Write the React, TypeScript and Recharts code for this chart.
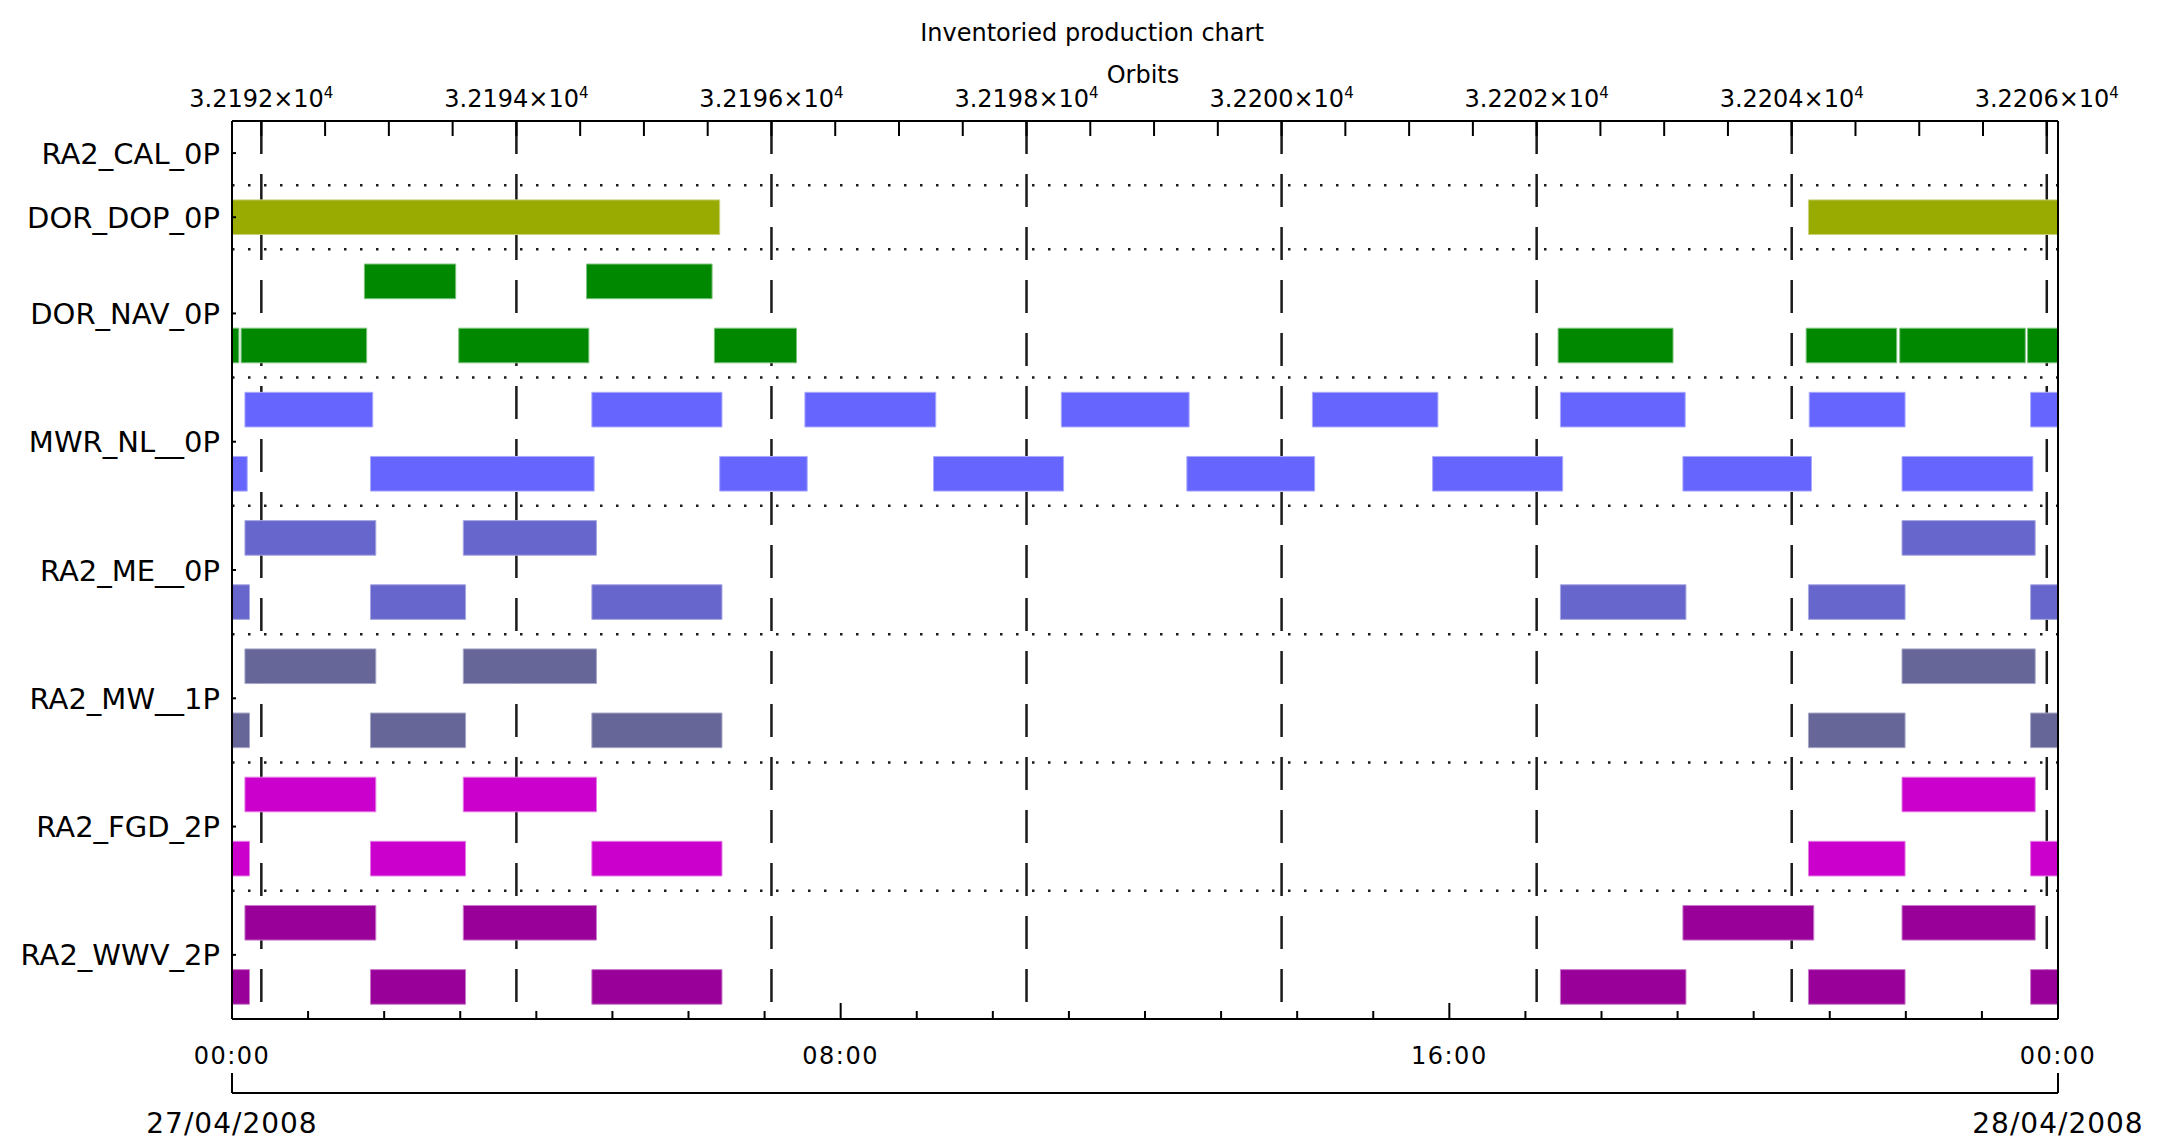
import React from 'react';
import { ComposedChart, XAxis, YAxis, ReferenceArea, ReferenceLine } from 'recharts';

const FONT = "'DejaVu Sans', sans-serif";

// ---- axis ticks / labels ----
const HOUR_TICKS = [0, 1, 2, 3, 4, 5, 6, 7, 8, 9, 10, 11, 12, 13, 14, 15, 16, 17, 18, 19, 20, 21, 22, 23, 24];
const HOUR_LABELS: Record<number, string> = { 0: '00:00', 8: '08:00', 16: '16:00', 24: '00:00' };
const DATE_TICKS = [0, 24];
const DATE_LABELS = ['27/04/2008', '28/04/2008'];
const ORBIT_DOMAIN = [32191.77, 32206.088];
const ORBIT_TICKS = [
  32192, 32192.5, 32193, 32193.5, 32194, 32194.5, 32195, 32195.5, 32196, 32196.5,
  32197, 32197.5, 32198, 32198.5, 32199, 32199.5, 32200, 32200.5, 32201, 32201.5,
  32202, 32202.5, 32203, 32203.5, 32204, 32204.5, 32205, 32205.5, 32206,
];
const ORBIT_MAJOR = [32192, 32194, 32196, 32198, 32200, 32202, 32204, 32206];
const ORBIT_LABELS = ['3.2192', '3.2194', '3.2196', '3.2198', '3.2200', '3.2202', '3.2204', '3.2206'];

// ---- rows ----
const ROW_NAMES = ['RA2_CAL_0P', 'DOR_DOP_0P', 'DOR_NAV_0P', 'MWR_NL__0P', 'RA2_ME__0P', 'RA2_MW__1P', 'RA2_FGD_2P', 'RA2_WWV_2P'];
const ROW_CENTERS = [0.5, 1.5, 3, 5, 7, 9, 11, 13];
const ROW_SEPARATORS = [1, 2, 4, 6, 8, 10, 12];
const ROW_DOMAIN = [0, 14];

// ---- production segments, [start hour, end hour] ----
const DOR_DOP = [[0, 6.41], [20.72, 24]];
const DOR_NAV_A = [[1.74, 2.94], [4.66, 6.31]];
const DOR_NAV_B = [[0, 0.09], [0.12, 1.77], [2.98, 4.69], [6.34, 7.42], [17.43, 18.94], [20.69, 21.88], [21.92, 23.57], [23.6, 24]];
const MWR_A = [[0.17, 1.85], [4.73, 6.44], [7.53, 9.25], [10.9, 12.58], [14.2, 15.85], [17.46, 19.1], [20.73, 21.99], [23.64, 24]];
const MWR_B = [[0, 0.2], [1.82, 4.76], [6.41, 7.56], [9.22, 10.93], [12.55, 14.23], [15.78, 17.49], [19.07, 20.76], [21.95, 23.67]];
const ME_A = [[0.17, 1.89], [3.04, 4.79], [21.95, 23.7]];
const ME_B = [[0, 0.23], [1.82, 3.07], [4.73, 6.44], [17.46, 19.11], [20.72, 21.99], [23.64, 24]];
const MW_A = [[0.17, 1.89], [3.04, 4.79], [21.95, 23.7]];
const MW_B = [[0, 0.23], [1.82, 3.07], [4.73, 6.44], [20.72, 21.99], [23.64, 24]];
const FGD_A = [[0.17, 1.89], [3.04, 4.79], [21.95, 23.7]];
const FGD_B = [[0, 0.23], [1.82, 3.07], [4.73, 6.44], [20.72, 21.99], [23.64, 24]];
const WWV_A = [[0.17, 1.89], [3.04, 4.79], [19.07, 20.79], [21.95, 23.7]];
const WWV_B = [[0, 0.23], [1.82, 3.07], [4.73, 6.44], [17.46, 19.11], [20.72, 21.99], [23.64, 24]];

const SUBROWS = [
  { row: 1, segs: DOR_DOP, color: '#99aa00', edge: '#c9d27a' },
  { row: 2, segs: DOR_NAV_A, color: '#008800', edge: '#7cc27c' },
  { row: 3, segs: DOR_NAV_B, color: '#008800', edge: '#7cc27c' },
  { row: 4, segs: MWR_A, color: '#6666ff', edge: '#aaaaff' },
  { row: 5, segs: MWR_B, color: '#6666ff', edge: '#aaaaff' },
  { row: 6, segs: ME_A, color: '#6666cc', edge: '#a8a8e2' },
  { row: 7, segs: ME_B, color: '#6666cc', edge: '#a8a8e2' },
  { row: 8, segs: MW_A, color: '#666699', edge: '#a6a6c6' },
  { row: 9, segs: MW_B, color: '#666699', edge: '#a6a6c6' },
  { row: 10, segs: FGD_A, color: '#cc00cc', edge: '#e47ae4' },
  { row: 11, segs: FGD_B, color: '#cc00cc', edge: '#e47ae4' },
  { row: 12, segs: WWV_A, color: '#990099', edge: '#c97ac9' },
  { row: 13, segs: WWV_B, color: '#990099', edge: '#c97ac9' },
];

// extent rows so that every axis has data to build its scale from
const EXTENT = [
  { h: HOUR_TICKS[0], o: ORBIT_DOMAIN[0], r: ROW_DOMAIN[0] },
  { h: HOUR_TICKS[HOUR_TICKS.length - 1], o: ORBIT_DOMAIN[1], r: ROW_DOMAIN[1] },
];

const BAR_PAD = 0.23;
const T_AXIS = 'h1time';
const D_AXIS = 'h2date';

const TimeTick = (props: any) => {
  const { x, y, payload } = props;
  const v = payload.value;
  const major = v % 8 === 0;
  return (
    <g>
      <line x1={x} x2={x} y1={y} y2={y - (major ? 16 : 8)} stroke="#000" strokeWidth={2} />
      {major && (
        <text x={x} y={y + 45} textAnchor="middle" fontSize={24} letterSpacing={1.5} fontFamily={FONT} fill="#000">
          {HOUR_LABELS[v]}
        </text>
      )}
    </g>
  );
};

const DateTick = (props: any) => {
  const { x, y, payload } = props;
  const i = DATE_TICKS.indexOf(payload.value);
  return (
    <g>
      <line x1={x} x2={x} y1={y} y2={y - 20} stroke="#000" strokeWidth={2} />
      <text x={x} y={y + 40} textAnchor="middle" fontSize={28} letterSpacing={1} fontFamily={FONT} fill="#000">
        {DATE_LABELS[i]}
      </text>
    </g>
  );
};

const OrbitTick = (props: any) => {
  const { x, y, payload } = props;
  const v = payload.value;
  const i = ORBIT_MAJOR.indexOf(v);
  return (
    <g>
      <line x1={x} x2={x} y1={y} y2={y + 15} stroke="#000" strokeWidth={2} />
      {i >= 0 && (
        <text x={x} y={y - 14} textAnchor="middle" fontSize={24} fontFamily={FONT} fill="#000">
          <tspan>{ORBIT_LABELS[i] + '×10'}</tspan>
          <tspan dy={-9} fontSize={15}>4</tspan>
        </text>
      )}
    </g>
  );
};

const RowTick = (props: any) => {
  const { x, y, payload } = props;
  const i = ROW_CENTERS.indexOf(payload.value);
  return (
    <g>
      <line x1={x} x2={x + 4} y1={y} y2={y} stroke="#000" strokeWidth={2} />
      <text x={x - 12} y={y + 10.5} textAnchor="end" fontSize={29} fontFamily={FONT} fill="#000">
        {ROW_NAMES[i]}
      </text>
    </g>
  );
};

export default function App() {
  const axisLine = { stroke: '#000', strokeWidth: 2 };
  return (
    <div style={{ position: 'absolute', left: 0, top: 0, width: 2160, height: 1146, background: '#fff', fontFamily: FONT }}>
      <ComposedChart width={2160} height={1146} data={EXTENT} margin={{ top: 0, right: 0, bottom: 0, left: 0 }}>
        <XAxis xAxisId={T_AXIS} dataKey="h" type="number" orientation="bottom" domain={[0, 24]} ticks={HOUR_TICKS} interval={0}
          allowDataOverflow height={74} tickSize={0} tickMargin={0} axisLine={axisLine} tickLine={false} tick={(p: any) => <TimeTick {...p} />} />
        <XAxis xAxisId={D_AXIS} dataKey="h" type="number" orientation="bottom" domain={[0, 24]} ticks={DATE_TICKS} interval={0}
          allowDataOverflow height={53} tickSize={0} tickMargin={0} axisLine={axisLine} tickLine={false} tick={(p: any) => <DateTick {...p} />} />
        <XAxis xAxisId="orbit" dataKey="o" type="number" orientation="top" domain={ORBIT_DOMAIN} ticks={ORBIT_TICKS} interval={0}
          allowDataOverflow height={121} tickSize={0} tickMargin={0} axisLine={axisLine} tickLine={false} tick={(p: any) => <OrbitTick {...p} />} />
        <YAxis yAxisId="rows" dataKey="r" type="number" orientation="left" domain={ROW_DOMAIN} reversed ticks={ROW_CENTERS} interval={0}
          allowDataOverflow width={232} tickSize={0} tickMargin={0} axisLine={axisLine} tickLine={false} tick={(p: any) => <RowTick {...p} />} />
        <YAxis yAxisId="right" dataKey="r" type="number" orientation="right" domain={ROW_DOMAIN} allowDataOverflow width={102}
          tick={false} tickLine={false} axisLine={axisLine} />

        {ORBIT_MAJOR.map((o) => (
          <ReferenceLine key={'v' + o} xAxisId="orbit" yAxisId="rows" ifOverflow="visible" zIndex={50}
            segment={[{ x: o, y: 0 }, { x: o, y: 14 }]} stroke="#1a1a1a" strokeWidth={2.5} strokeDasharray="33 20" />
        ))}
        {ROW_SEPARATORS.map((b) => (
          <ReferenceLine key={'h' + b} xAxisId={T_AXIS} yAxisId="rows" ifOverflow="visible" zIndex={50}
            segment={[{ x: 0, y: b }, { x: 24, y: b }]} stroke="#1a1a1a" strokeWidth={2.5} strokeDasharray="2.5 13.5" />
        ))}
        {SUBROWS.flatMap((s) =>
          s.segs.map((seg, j) => (
            <ReferenceArea key={'a' + s.row + '_' + j} xAxisId={T_AXIS} yAxisId="rows" ifOverflow="visible" zIndex={300}
              x1={seg[0]} x2={seg[1]} y1={s.row + BAR_PAD} y2={s.row + 1 - BAR_PAD}
              fill={s.color} fillOpacity={1} stroke={s.edge} strokeWidth={1} />
          ))
        )}
      </ComposedChart>
      <div style={{ position: 'absolute', left: 0, top: 19, width: 2184, textAlign: 'center', fontSize: 24, lineHeight: '28px', color: '#000', pointerEvents: 'none' }}>
        Inventoried production chart
      </div>
      <div style={{ position: 'absolute', left: 0, top: 61, width: 2286, textAlign: 'center', fontSize: 24, lineHeight: '28px', color: '#000', pointerEvents: 'none' }}>
        Orbits
      </div>
    </div>
  );
}
